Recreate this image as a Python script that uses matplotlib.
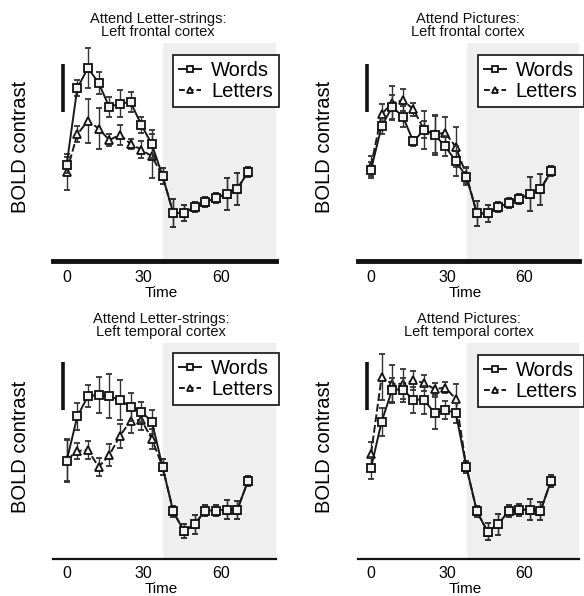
import matplotlib
matplotlib.use('Agg')
import matplotlib.pyplot as plt
from matplotlib.lines import Line2D

plt.rcParams['font.family'] = ['Liberation Sans', 'DejaVu Sans']

# ---------------- data ----------------
time = [0, 4.15, 8.3, 12.45, 16.6, 20.75, 24.9, 29.05, 33.2, 37.35,
        41.5, 45.65, 49.8, 53.95, 58.1, 62.25, 66.4, 70.55]
xticks = [0, 30, 60]
titles = ["Attend Letter-strings:\nLeft frontal cortex",
          "Attend Pictures:\nLeft frontal cortex",
          "Attend Letter-strings:\nLeft temporal cortex",
          "Attend Pictures:\nLeft temporal cortex"]
series_names = ["Words", "Letters"]

# Panel A: Attend letter-strings, left frontal
words_a = [2.00, 3.60, 4.02, 3.71, 3.21, 3.28, 3.31, 2.84, 2.43, 1.77,
           1.00, 1.00, 1.12, 1.23, 1.31, 1.40, 1.50, 1.85]
words_a_err = [0.17, 0.17, 0.42, 0.23, 0.21, 0.29, 0.21, 0.17, 0.29, 0.17,
               0.29, 0.17, 0.10, 0.10, 0.10, 0.33, 0.33, 0.10]
letters_a = [1.85, 2.64, 2.92, 2.76, 2.52, 2.63, 2.44, 2.32, 2.18, 1.77,
             1.00, 1.00, 1.12, 1.23, 1.31, 1.40, 1.50, 1.85]
letters_a_err = [0.38, 0.17, 0.46, 0.42, 0.13, 0.21, 0.10, 0.17, 0.46, 0.17,
                 0.29, 0.17, 0.10, 0.10, 0.10, 0.33, 0.33, 0.10]

# Panel B: Attend pictures, left frontal
words_b = [1.90, 2.81, 3.21, 3.01, 2.49, 2.73, 2.63, 2.39, 2.08, 1.76,
           0.99, 0.99, 1.12, 1.21, 1.29, 1.40, 1.49, 1.87]
words_b_err = [0.17, 0.17, 0.25, 0.21, 0.10, 0.40, 0.42, 0.21, 0.31, 0.17,
               0.27, 0.17, 0.10, 0.10, 0.10, 0.35, 0.33, 0.10]
letters_b = [1.98, 3.06, 3.29, 3.35, 3.16, 2.74, 2.64, 2.67, 2.38, 1.79,
             0.99, 0.99, 1.12, 1.21, 1.29, 1.40, 1.49, 1.87]
letters_b_err = [0.21, 0.21, 0.35, 0.23, 0.13, 0.17, 0.38, 0.33, 0.42, 0.17,
                 0.27, 0.17, 0.10, 0.10, 0.10, 0.35, 0.33, 0.10]

# Panel C: Attend letter-strings, left temporal
words_c = [2.04, 2.97, 3.39, 3.42, 3.39, 3.31, 3.17, 3.07, 2.86, 1.92,
           0.99, 0.58, 0.72, 1.01, 1.01, 1.03, 1.02, 1.62]
words_c_err = [0.44, 0.29, 0.23, 0.38, 0.46, 0.42, 0.29, 0.21, 0.25, 0.17,
               0.12, 0.15, 0.19, 0.12, 0.12, 0.19, 0.19, 0.10]
letters_c = [2.06, 2.25, 2.27, 1.92, 2.16, 2.57, 2.87, 2.90, 2.50, 1.92,
             0.99, 0.58, 0.72, 1.01, 1.01, 1.03, 1.02, 1.62]
letters_c_err = [0.44, 0.17, 0.19, 0.19, 0.23, 0.25, 0.25, 0.21, 0.21, 0.17,
                 0.12, 0.15, 0.19, 0.12, 0.12, 0.19, 0.19, 0.10]

# Panel D: Attend pictures, left temporal
words_d = [1.90, 2.86, 3.53, 3.53, 3.32, 3.32, 3.04, 3.10, 3.05, 1.92,
           0.99, 0.57, 0.72, 1.00, 1.02, 1.03, 1.00, 1.63]
words_d_err = [0.23, 0.29, 0.25, 0.25, 0.27, 0.29, 0.33, 0.19, 0.21, 0.12,
               0.12, 0.17, 0.21, 0.12, 0.12, 0.21, 0.19, 0.12]
letters_d = [2.19, 3.79, 3.65, 3.65, 3.72, 3.67, 3.54, 3.57, 3.34, 1.92,
             0.99, 0.57, 0.72, 1.00, 1.02, 1.03, 1.00, 1.63]
letters_d_err = [0.25, 0.48, 0.40, 0.31, 0.19, 0.17, 0.12, 0.12, 0.31, 0.12,
                 0.12, 0.17, 0.21, 0.12, 0.12, 0.21, 0.19, 0.12]

words_all = [words_a, words_b, words_c, words_d]
words_err_all = [words_a_err, words_b_err, words_c_err, words_d_err]
letters_all = [letters_a, letters_b, letters_c, letters_d]
letters_err_all = [letters_a_err, letters_b_err, letters_c_err, letters_d_err]

rest_start = 37.5          # start of shaded (rest) period
scale_bar = (3.1, 4.1)     # vertical scale bar extent

# ---------------- layout ----------------
W, H = 584, 596
fig = plt.figure(figsize=(W / 100, H / 100), dpi=100)

# (left, top, right, bottom) in pixels
rects = [(53, 43, 276, 261), (357.5, 43, 579, 261),
         (53, 343, 276, 559), (357.5, 343, 579, 559)]
spine_w = [3.5, 3.5, 1.6, 1.6]
title_x = [0.47, 0.50, 0.485, 0.505]
ylab_y = [0.523, 0.523, 0.519, 0.519]
tick_pad = [6.5, 6.5, 5.0, 5.0]
time_y = [-0.148, -0.148, -0.137, -0.137]
leg_top = [55, 55, 353, 355]

line_kw = dict(color='#1a1a1a', lw=1.4, mfc='#f2f2f2', mec='#111111', mew=1.3)

for i in range(4):
    l, t, r, b = rects[i]
    ax = fig.add_axes([l / W, 1 - b / H, (r - l) / W, (b - t) / H])
    ax.set_xlim(-5.3, 81.5)
    ax.set_ylim(0, (b - t) / 48.0)
    ax.axvspan(rest_start, 90, color='#efefef', lw=0, zorder=0)

    ax.errorbar(time, letters_all[i], yerr=letters_err_all[i],
                dashes=(4, 1.5), marker='^', ms=5.5,
                ecolor='#333333', elinewidth=1.0, capsize=2.3,
                zorder=3, **line_kw)
    ax.errorbar(time, words_all[i], yerr=words_err_all[i],
                ls='-', marker='s', ms=5.2,
                ecolor='#333333', elinewidth=1.0, capsize=2.3,
                zorder=4, **line_kw)

    ax.plot([-1.56, -1.56], list(scale_bar), color='#111111', lw=2.6,
            solid_capstyle='butt', zorder=5)

    for s in ['left', 'right', 'top']:
        ax.spines[s].set_visible(False)
    ax.spines['bottom'].set_linewidth(spine_w[i])
    ax.spines['bottom'].set_color('#111111')
    ax.set_yticks([])
    ax.set_xticks(xticks)
    ax.set_xticklabels([str(v) for v in xticks])
    ax.tick_params(axis='x', length=0, pad=tick_pad[i], labelsize=11.5)

    ax.set_xlabel('Time', fontsize=11)
    ax.xaxis.label.set_va('center')
    ax.xaxis.set_label_coords(0.485, time_y[i])
    ax.set_ylabel('BOLD contrast', fontsize=14.5)
    ax.yaxis.label.set_va('center')
    ax.yaxis.set_label_coords(-0.147, ylab_y[i])

    ax.text(title_x[i], 1 + 17.5 / (b - t), titles[i], transform=ax.transAxes,
            ha='center', va='center', fontsize=10.5, linespacing=0.9,
            color='#111111')

    handles = [Line2D([], [], ls='-', marker='s', ms=4.5, **line_kw),
               Line2D([], [], dashes=(3, 1.5), marker='^', ms=5, **line_kw)]
    leg = ax.legend(handles, series_names, loc='upper left',
                    bbox_to_anchor=((l + 120) / W, 1 - leg_top[i] / H),
                    bbox_transform=fig.transFigure, fontsize=14.5,
                    frameon=True, fancybox=False, framealpha=1,
                    edgecolor='#222222', handlelength=1.1, handletextpad=0.5,
                    borderpad=0.3, labelspacing=0.08,
                    borderaxespad=0)
    leg.get_frame().set_linewidth(1.3)

fig.savefig('out.png', dpi=100)
